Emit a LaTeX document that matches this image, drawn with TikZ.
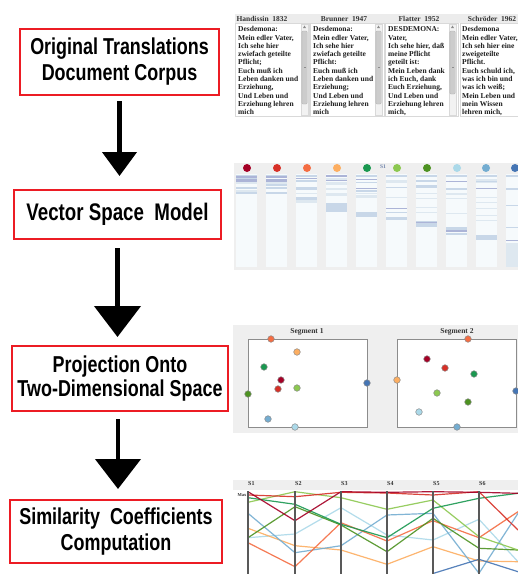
\documentclass[tikz,border=0pt]{standalone}
\usepackage{fontspec}
\usetikzlibrary{arrows.meta}
\newfontfamily\boxfont[FakeStretch=0.78]{Liberation Sans}
\newfontfamily\serb{Liberation Serif}
\definecolor{boxred}{RGB}{236,28,36}
\definecolor{hdr}{RGB}{236,236,236}
\definecolor{panelbg}{RGB}{239,239,239}
\definecolor{stripbg}{RGB}{246,250,252}
\definecolor{bA}{RGB}{172,180,215}
\definecolor{bB}{RGB}{200,215,232}
\definecolor{bC}{RGB}{222,232,240}
\definecolor{ca}{RGB}{165,0,38}
\definecolor{cb}{RGB}{215,48,39}
\definecolor{cc}{RGB}{244,109,67}
\definecolor{cd}{RGB}{253,174,97}
\definecolor{ce}{RGB}{26,152,80}
\definecolor{cf}{RGB}{140,200,80}
\definecolor{cg}{RGB}{77,146,33}
\definecolor{ch}{RGB}{171,217,233}
\definecolor{ci}{RGB}{116,173,209}
\definecolor{cj}{RGB}{69,117,180}
\newcommand\vsstrip[2]{%
  \fill[stripbg] (#1,174) rectangle ++(21,93);
  \foreach \yy/\hh/\cc in {#2} {\fill[\cc] (#1,\yy) rectangle ++(21,\hh);}
}
\newcommand\dotp[3]{\filldraw[fill=#1,draw=black!45,line width=0.5] (#2,#3) circle (3.3);}
\begin{document}
\begin{tikzpicture}[x=1pt,y=-1pt,
  stepbox/.style={draw=boxred,line width=2,fill=white,align=center,inner sep=0,
    font=\boxfont\bfseries\fontsize{23}{26}\selectfont},
  arr/.style={line width=4.5},
  coltext/.style={anchor=north west,inner sep=0,align=left,text=black!88,
    font=\serb\bfseries\fontsize{7.5}{8.3}\selectfont},
  hdrtext/.style={inner sep=0,text=black!80,font=\serb\bfseries\fontsize{7.5}{8}\selectfont},
  small/.style={inner sep=0,text=black!80,font=\serb\bfseries\fontsize{6}{6}\selectfont},
  colframe/.style={draw=black!15,fill=white,line width=0.6},
  pc/.style={line width=1.2,opacity=0.9}]
\useasboundingbox (0,0) rectangle (518,574);
\fill[white] (0,0) rectangle (518,574);

% ---------------- left flow ----------------
\node[stepbox,minimum width=199,minimum height=66] (b1) at (119.5,62)
  {Original Translations\\Document Corpus};
\node[stepbox,minimum width=207,minimum height=49,font=\boxfont\bfseries\fontsize{24}{26}\selectfont] (b2) at (117.5,214.5)
  {Vector Space\ \ Model};
\node[stepbox,minimum width=216,minimum height=65,font=\boxfont\bfseries\fontsize{23}{24.5}\selectfont] (b3) at (120,378.5)
  {Projection Onto\\Two-Dimensional Space};
\node[stepbox,minimum width=212,minimum height=63] (b4) at (116,531.5)
  {Similarity\ \ Coefficients\\Computation};

\draw[arr,-{Triangle[width=34pt,length=24pt]},shorten <=5pt,shorten >=13pt] (b1.south) -- (b1.south |- b2.north);
\draw[arr,-{Triangle[width=46pt,length=31pt]},shorten <=8pt,shorten >=8pt] (b2.south) -- (b2.south |- b3.north);
\draw[arr,-{Triangle[width=45pt,length=30pt]},shorten <=7pt,shorten >=10pt] ([xshift=-2pt]b3.south) -- ([xshift=-2pt]b3.south |- b4.north);

\begin{scope}
\clip (0,0) rectangle (518,574);
% ---------------- panel 1: text columns ----------------
\fill[hdr] (235,14) rectangle (518,23);
\node[hdrtext] (h1) at (262,19) {Handissin\ \ 1832};
\node[hdrtext] (h2) at (344,19) {Brunner\ \ 1947};
\node[hdrtext] (h3) at (419,19) {Flatter\ \ 1952};
\node[hdrtext] (h4) at (492,19) {Schröder\ \ 1962};
\foreach \xa/\xb in {235/309,310/384,385/458,460/530} {
  \draw[colframe] (\xa,23.5) rectangle (\xb,116);
}
\foreach \sx/\te in {301/104,375/104,449/94} {
  \draw[fill=black!5,draw=black!15,line width=0.4] (\sx,24) rectangle ++(7,91);
  \fill[black!45] (\sx+3.5,25.5) -- (\sx+2,28) -- (\sx+5,28) -- cycle;
  \draw[fill=black!20,draw=black!30,line width=0.4,rounded corners=1] (\sx+0.8,31) rectangle (\sx+6.2,\te);
  \fill[black!45] (\sx+2.5,67) rectangle ++(2,0.6);
}
\node[coltext] (t1) at (238,25.5) {\rule{0pt}{6pt}Desdemona:\\Mein edler Vater,\\Ich sehe hier\\zwiefach geteilte\\Pflicht;\\Euch muß ich\\Leben danken und\\Erziehung,\\Und Leben und\\Erziehung lehren\\mich};
\node[coltext] (t2) at (313,25.5) {\rule{0pt}{6pt}Desdemona:\\Mein edler Vater,\\Ich sehe hier\\zwiefach geteilte\\Pflicht:\\Euch muß ich\\Leben danken und\\Erziehung;\\Und Leben und\\Erziehung lehren\\mich};
\node[coltext] (t3) at (388,25.5) {\rule{0pt}{6pt}DESDEMONA:\\Vater,\\Ich sehe hier, daß\\meine Pflicht\\geteilt ist:\\Mein Leben dank\\ich Euch, dank\\Euch Erziehung,\\Und Leben und\\Erziehung lehren\\mich,};
\node[coltext] (t4) at (462,25.5) {\rule{0pt}{6pt}Desdemona\\Mein edler Vater,\\Ich seh hier eine\\zweigeteilte\\Pflicht.\\Euch schuld ich,\\was ich bin und\\was ich weiß;\\Mein Leben und\\mein Wissen\\lehren mich,};

% ---------------- panel 2: vector space ----------------
\fill[panelbg] (234,163) rectangle (518,270);
\vsstrip{236}{175/1/bB,176/2/bA,178/1/bB,179/3/bA,182/2/bC,187/1.5/bB,190/2/bC,192/2/bB}
\vsstrip{266}{175/1/bB,176/2/bA,179/3/bA,182/2/bC,184/2/bB,187/1.5/bB,192/2/bB}
\vsstrip{296}{175/1.5/bB,178/1/bA,180/2/bB,187/3/bB,193/1/bC,197/3/bB,200/3/bC}
\vsstrip{326}{175/1.5/bA,178/2/bC,180/1/bA,182/3/bC,188/2/bC,193/3/bC,203/9/bB}
\vsstrip{356}{175/2/bB,179/1/bA,182/1/bB,188/1/bA,190/2/bB,193/1/bC,195/3/bC,212/5/bB}
\vsstrip{386}{175/1.5/bB,180/3/bC,187/1/bB,197/1/bC,208/1/bA,212/1/bB,217/3/bB}
\vsstrip{416}{175/1.5/bB,180/2/bB,185/3/bB,193/1/bC,198/1/bC,207/1/bC,212/1/bC,221/6/bB,222/1/bA}
\vsstrip{446}{175/1.5/bB,181/1/bA,188/2/bB,193/2/bC,198/1/bC,213/1/bC,227/3/bB,230/2/bA,233/2/bB}
\vsstrip{476}{175/1.5/bB,179/4/bC,181/1/bB,188/1/bA,197/1/bC,202/1/bC,208/1/bC,215/1/bC,220/1/bC,235/5/bB}
\vsstrip{506}{175/1.5/bB,188/2/bB,205/1/bB,227/1/bB,240/1/bA,243/24/bC}
\foreach \cx/\cl in {247/ca,277/cb,307/cc,337/cd,367/ce,397/cf,427/cg,457/ch,486/ci,515/cj} {
  \fill[\cl] (\cx,168) circle (4);
}
\node[inner sep=0,text={rgb,255:red,110;green,130;blue,170},font=\serb\bfseries\fontsize{5.5}{6}\selectfont] (s1lab) at (383,167) {S1};

% ---------------- panel 3: projection ----------------
\fill[panelbg] (233,325) rectangle (518,433);
\draw[black!45,fill=white,line width=0.8] (248,339) rectangle (367,427);
\draw[black!45,fill=white,line width=0.8] (397,339) rectangle (516,427);
\node[hdrtext] (seg1) at (307,332) {Segment 1};
\node[hdrtext] (seg2) at (457,332) {Segment 2};
\dotp{cc}{271}{339}
\dotp{cd}{297}{352}
\dotp{ce}{264}{367}
\dotp{ca}{281}{380}
\dotp{cb}{278}{389}
\dotp{cf}{297}{388}
\dotp{cj}{367}{383}
\dotp{cg}{248}{394}
\dotp{ci}{268}{419}
\dotp{ch}{295}{427}
\dotp{cc}{468}{339}
\dotp{ca}{427}{359}
\dotp{cb}{445}{368}
\dotp{ce}{474}{374}
\dotp{cd}{397}{380}
\dotp{cf}{437}{393}
\dotp{cj}{516}{391}
\dotp{cg}{468}{402}
\dotp{ch}{419}{412}
\dotp{ci}{457}{427}

% ---------------- panel 4: parallel coordinates ----------------
\fill[panelbg] (233,480) rectangle (518,490);
\foreach \ax [count=\k] in {248,295,341,387,433,479} {
  \node[small,anchor=west] (ax\k) at (\ax,484) {S\k};
}
\node[small,font=\serb\bfseries\fontsize{4.5}{5}\selectfont] (maxlab) at (242,495) {Max};
\draw[pc,ch] plot coordinates {(248,537.7) (295,534) (341,507.7) (387,535) (433,540) (479,519.3) (518,561.7)};
\draw[pc,cd] plot coordinates {(248,528.3) (295,545.7) (341,550) (387,564.3) (433,546.7) (479,561) (518,561.7)};
\draw[pc,ci] plot coordinates {(248,513.3) (295,552.7) (341,545.7) (387,515) (433,513.3) (479,573.3) (518,513.3)};
\draw[pc,cc] plot coordinates {(248,542.7) (295,566.7) (341,522.7) (387,541) (433,520.7) (479,537.7) (518,511.7)};
\draw[pc,cj] plot coordinates {(433,573.5) (479,559.3) (518,571.7)};
\draw[pc,cg] plot coordinates {(248,537.7) (295,506.7) (341,525) (387,551.7) (433,518.3) (479,548.3) (518,550)};
\draw[pc,cf] plot coordinates {(248,502.3) (295,491.7) (341,497.7) (387,509.3) (433,500) (479,536.7) (518,550)};
\draw[pc,ce] plot coordinates {(248,497.7) (295,504.3) (341,524.3) (387,537.7) (433,508.3) (479,498.3) (518,493.3)};
\draw[pc,cb] plot coordinates {(248,495) (295,496.7) (341,492.3) (387,493) (433,495) (479,491.7) (518,530)};
\draw[pc,ca] plot coordinates {(248,491.7) (295,520.7) (341,491.7) (387,492.3) (433,491.7) (479,492.3) (518,493.3)};
\foreach \ax in {248,295,341,387,433,479} {
  \draw[black!65,line width=1.5] (\ax,491) -- (\ax,574);
}
\end{scope}
\end{tikzpicture}
\end{document}
